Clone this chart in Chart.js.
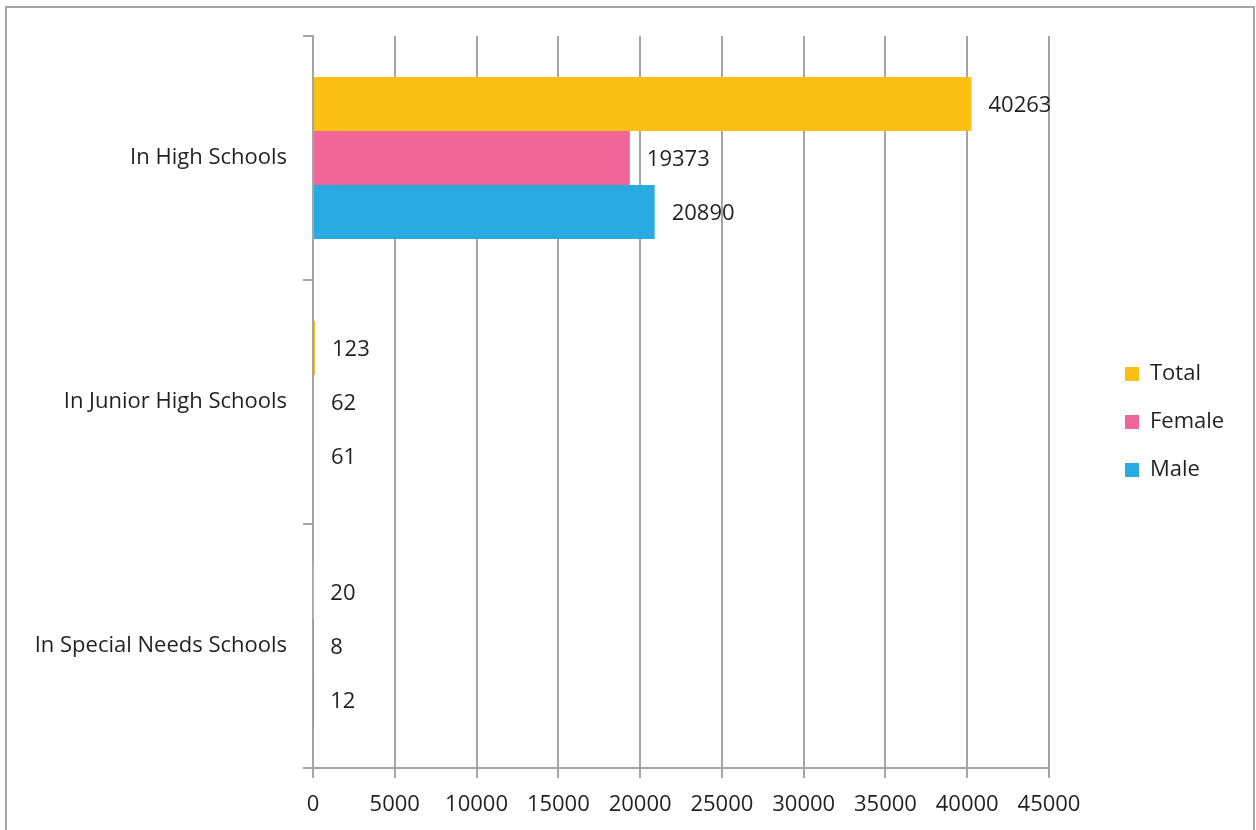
<!DOCTYPE html>
<html>
<head>
<meta charset="utf-8">
<script src="https://cdn.jsdelivr.net/npm/chart.js@4.4.0/dist/chart.umd.min.js"></script>
<style>
  html, body { margin: 0; padding: 0; background: #fff; overflow: hidden; }
  #frame { position: absolute; left: 5px; top: 6px; width: 1246px; height: 840px; border: 2px solid #a5a5a5; }
  #myChart { position: absolute; left: 0; top: 0; }
</style>
</head>
<body>
<div id="frame"></div>
<canvas id="myChart" width="1256" height="830"></canvas>
<script>
// data
const categories = ['In High Schools', 'In Junior High Schools', 'In Special Needs Schools'];
const seriesNames = ['Total', 'Female', 'Male'];
const totalValues = [40263, 123, 20];
const femaleValues = [19373, 62, 8];
const maleValues = [20890, 61, 12];
const xTickMax = 45000;
const xTickStep = 5000;

const FONT = "'Open Sans'";
const TEXT = '#231f20';
const GRID = '#a5a5a5';

Chart.defaults.font.family = FONT;
Chart.defaults.font.size = 22;
Chart.defaults.color = TEXT;

// measure legend text so the plot area lands where the reference has it
const meas = document.createElement('canvas').getContext('2d');
meas.font = '22px ' + FONT;
const legendTextW = Math.max(...seriesNames.map(s => meas.measureText(s).width));
const legendPad = 26;
const legendItemW = 14 + 11 + legendTextW;
const legendW = legendPad + legendItemW + 10;
const legendLeft = 1125 - legendPad;
const padRight = 1256 - legendLeft - legendW;

// value labels at the end of each bar
const valueLabels = {
    id: 'valueLabels',
    afterDatasetsDraw(chart) {
        const ctx = chart.ctx;
        ctx.save();
        ctx.font = '22px ' + FONT;
        ctx.fillStyle = TEXT;
        ctx.textAlign = 'left';
        ctx.textBaseline = 'middle';
        chart.data.datasets.forEach((ds, i) => {
            chart.getDatasetMeta(i).data.forEach((bar, j) => {
                ctx.fillText(String(ds.data[j]), bar.x + 17, bar.y + 2);
            });
        });
        ctx.restore();
    }
};

const data = {
    labels: categories,
    datasets: [{
            label: seriesNames[0],
            data: totalValues,
            backgroundColor: '#fcbf14'
        },
        {
            label: seriesNames[1],
            data: femaleValues,
            backgroundColor: '#f06698'
        },
        {
            label: seriesNames[2],
            data: maleValues,
            backgroundColor: '#29abe2'
        }
    ]
};

const config = {
    type: 'bar',
    data,
    plugins: [valueLabels],
    options: {
        indexAxis: 'y',
        responsive: false,
        animation: false,
        categoryPercentage: 0.664,
        barPercentage: 1,
        layout: {
            padding: { top: 36, left: 0, right: padRight, bottom: 0 }
        },
        plugins: {
            tooltip: { enabled: false },
            legend: {
                position: 'right',
                fullSize: false,
                // empty title only nudges the legend items down
                title: { display: true, text: ' ', font: { size: 10 }, padding: { top: 14, bottom: 14 } },
                labels: {
                    boxWidth: 14,
                    boxHeight: 14,
                    padding: legendPad,
                    color: TEXT,
                    font: { size: 22 }
                }
            }
        },
        scales: {
            x: {
                min: 0,
                max: xTickMax,
                ticks: {
                    stepSize: xTickStep,
                    padding: 14,
                    autoSkip: false,
                    maxRotation: 0,
                    callback: (v) => String(v)
                },
                grid: { color: GRID, lineWidth: 2, tickLength: 10 },
                border: { color: GRID, width: 2 },
                afterFit(scale) { scale.height = 62; }
            },
            y: {
                ticks: { padding: 16, autoSkip: false },
                grid: { offset: true, drawOnChartArea: false, color: GRID, lineWidth: 2, tickLength: 10 },
                border: { color: GRID, width: 2 },
                afterFit(scale) { scale.width = 313; }
            },
            spacer: {
                type: 'category',
                axis: 'y',
                position: 'right',
                grid: { display: false },
                border: { display: false },
                ticks: { display: false },
                afterFit(scale) { scale.width = legendLeft - 1049; }
            }
        }
    }
};

const myChart = new Chart(document.getElementById('myChart'), config);
</script>
</body>
</html>
